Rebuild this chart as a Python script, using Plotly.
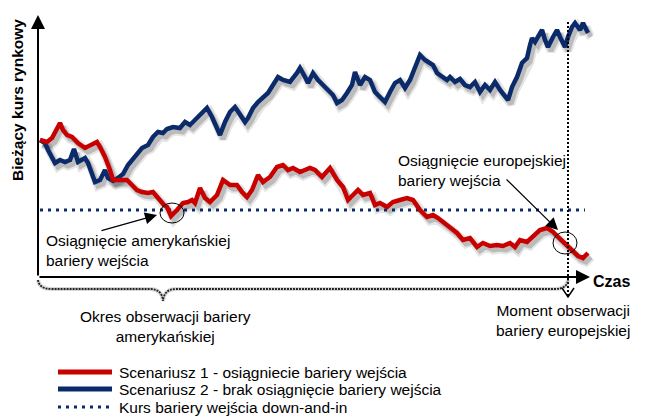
import plotly.graph_objects as go

# ---------------- data ----------------
days_s1 = [2, 9, 14, 19, 22, 25, 29, 34, 40, 47, 54, 59, 62, 67, 72, 75, 82, 89, 94, 99,
           104, 110, 115, 120, 126, 129, 133, 139, 145, 150, 154, 157, 162, 167, 172, 179,
           185, 192, 199, 204, 209, 214, 220, 225, 232, 239, 245, 250, 255, 262, 267, 272,
           277, 284, 292, 299, 305, 310, 315, 320, 325, 332, 337, 342, 349, 355, 362, 369,
           375, 382, 389, 395, 400, 405, 412, 419, 425, 432, 439, 445, 452, 459, 465, 472,
           477, 482, 489, 495, 502, 509, 515, 520, 525, 530, 535, 540, 545, 550]
price_s1 = [137, 135, 139, 150, 154, 147, 142, 140, 134, 129, 132, 135, 130, 120, 107, 97,
            97, 97, 92, 87, 85, 84, 85, 79, 72, 70, 61, 67, 74, 75, 77, 74, 89, 79, 75, 82,
            97, 92, 92, 85, 80, 87, 102, 95, 100, 110, 112, 107, 109, 105, 107, 109, 107,
            100, 109, 97, 90, 77, 82, 87, 82, 84, 72, 74, 70, 75, 77, 79, 77, 67, 60, 62,
            59, 55, 50, 44, 37, 39, 30, 34, 31, 32, 31, 34, 30, 37, 35, 41, 47, 49, 45, 40,
            35, 30, 25, 21, 19, 24]

days_s2 = [2, 7, 10, 14, 17, 22, 27, 32, 36, 40, 47, 50, 54, 57, 62, 67, 70, 75, 80, 85,
           90, 94, 99, 104, 110, 115, 120, 125, 129, 135, 142, 147, 152, 159, 165, 169, 174,
           179, 182, 187, 192, 197, 202, 207, 210, 215, 220, 225, 230, 235, 240, 245, 252,
           259, 262, 267, 270, 275, 280, 285, 290, 295, 299, 304, 309, 314, 317, 322, 327,
           332, 337, 342, 347, 352, 357, 362, 367, 372, 377, 382, 387, 392, 395, 399, 404,
           409, 412, 417, 422, 427, 432, 437, 442, 447, 452, 457, 462, 467, 470, 474, 479,
           484, 489, 492, 494, 497, 500, 504, 507, 510, 515, 519, 522, 527, 530, 534, 537,
           542, 545, 549, 550]
price_s2 = [137, 134, 127, 120, 114, 117, 115, 117, 128, 115, 119, 114, 104, 95, 97, 107,
            99, 96, 99, 103, 112, 117, 124, 129, 132, 140, 145, 144, 148, 150, 149, 155, 152,
            159, 165, 169, 160, 150, 142, 155, 165, 170, 162, 155, 159, 169, 175, 179, 184,
            192, 200, 197, 195, 204, 209, 200, 194, 204, 197, 192, 187, 182, 174, 177, 184,
            192, 205, 192, 200, 197, 185, 180, 175, 185, 194, 197, 189, 197, 210, 222, 217,
            214, 212, 204, 201, 197, 200, 195, 198, 192, 190, 195, 185, 192, 187, 195, 187,
            180, 177, 190, 200, 214, 219, 232, 239, 235, 240, 247, 237, 230, 240, 247, 240,
            230, 240, 250, 254, 247, 254, 245, 244]

barrier_level = 67
barrier_days = [2, 547]
observation_day = 530

series_names = ["Scenariusz 1 - osiągniecie bariery wejścia",
                "Scenariusz 2 - brak osiągnięcie bariery wejścia",
                "Kurs bariery wejścia down-and-in"]
y_title = "Bieżący kurs rynkowy"
x_title = "Czas"

RED = "#C80000"
BLUE = "#0B2A6A"
FONT = "Liberation Sans Narrow, Arial Narrow, Liberation Sans, Arial, sans-serif"

fig = go.Figure()

# shadows (offset copies of the data)
for d, p in [(days_s2, price_s2), (days_s1, price_s1)]:
    fig.add_trace(go.Scatter(x=[v + 3 for v in d], y=[v - 4 for v in p], mode="lines",
                             line=dict(color="rgba(0,0,0,0.10)", width=9),
                             hoverinfo="skip", showlegend=False))
    fig.add_trace(go.Scatter(x=[v + 3 for v in d], y=[v - 4 for v in p], mode="lines",
                             line=dict(color="rgba(0,0,0,0.18)", width=5),
                             hoverinfo="skip", showlegend=False))

# barrier
fig.add_trace(go.Scatter(x=barrier_days, y=[barrier_level] * 2, mode="lines",
                         name=series_names[2],
                         line=dict(color=BLUE, width=3, dash="3px,5px"), showlegend=False))
fig.add_trace(go.Scatter(x=days_s2, y=price_s2, mode="lines", name=series_names[1],
                         line=dict(color=BLUE, width=4.5), showlegend=False))
fig.add_trace(go.Scatter(x=days_s1, y=price_s1, mode="lines", name=series_names[0],
                         line=dict(color=RED, width=4.5), showlegend=False))

shapes = []
# observation moment vertical dotted line
shapes.append(dict(type="line", xref="x", yref="y", x0=observation_day, x1=observation_day,
                   y0=255, y1=-19, line=dict(color="black", width=2, dash="2px,2px")))
shapes.append(dict(type="path", xref="x", yref="y",
                   path=f"M {observation_day-6},-11 L {observation_day},-20 L {observation_day+6},-11",
                   line=dict(color="black", width=1.5)))
# brace (dotted)
brace = ("M 0,-3 Q 1,-12 14,-12 L 112,-12 Q 124,-12 125,-24 Q 126,-12 138,-12 "
         "L 517,-12 Q 529,-12 530,-3")
shapes.append(dict(type="path", xref="x", yref="y", path=brace,
                   line=dict(color="rgba(0,0,0,0.15)", width=4)))
shapes.append(dict(type="path", xref="x", yref="y", path=brace,
                   line=dict(color="#222", width=1.8, dash="2px,1px")))
# circles
shapes.append(dict(type="circle", xref="x", yref="y", x0=122, x1=146, y0=54, y1=74,
                   line=dict(color="black", width=1)))
shapes.append(dict(type="circle", xref="x", yref="y", x0=515, x1=539, y0=23, y1=45,
                   line=dict(color="black", width=1)))

# legend samples
def px2paper(px, py):
    return px / 650, 1 - py / 419

for col, dash, py in [(RED, None, 372), (BLUE, None, 389), (BLUE, "3px,5px", 407)]:
    x0, y0 = px2paper(58, py)
    x1, _ = px2paper(112, py)
    shapes.append(dict(type="line", xref="paper", yref="paper", x0=x0, x1=x1, y0=y0, y1=y0,
                       line=dict(color=col, width=5 if dash is None else 3, dash=dash)))

ann = []
# axes as arrows
ann.append(dict(x=0, y=262, ax=0, ay=0, xref="x", yref="y", axref="x", ayref="y", text="",
                showarrow=True, arrowhead=2, arrowsize=1.4, arrowwidth=2, arrowcolor="black"))
ann.append(dict(x=552, y=0, ax=0, ay=0, xref="x", yref="y", axref="x", ayref="y", text="",
                showarrow=True, arrowhead=2, arrowsize=1.4, arrowwidth=2, arrowcolor="black"))
ann.append(dict(x=553, y=-4, xref="x", yref="y", text=f"<b>{x_title}</b>", showarrow=False,
                xanchor="left", yanchor="middle", font=dict(family=FONT, size=16, color="black")))
ann.append(dict(x=-21, y=177, xref="x", yref="y", text=f"<b>{y_title}</b>", showarrow=False,
                textangle=-90, xanchor="center", yanchor="middle",
                font=dict(family=FONT, size=15.5, color="black")))
# pointing arrows
ann.append(dict(x=119, y=62, ax=62, ay=46, xref="x", yref="y", axref="x", ayref="y", text="",
                showarrow=True, arrowhead=2, arrowsize=2, arrowwidth=1.2, arrowcolor="black"))
ann.append(dict(x=520, y=47, ax=467, ay=99, xref="x", yref="y", axref="x", ayref="y", text="",
                showarrow=True, arrowhead=2, arrowsize=2, arrowwidth=1.2, arrowcolor="black"))
# text labels
TXT = dict(family=FONT, size=15.5, color="black")
ann.append(dict(x=6, y=27, xref="x", yref="y", text="Osiągnięcie amerykańskiej<br>bariery wejścia",
                showarrow=False, xanchor="left", yanchor="middle", align="left", font=TXT))
ann.append(dict(x=358, y=107, xref="x", yref="y", text="Osiągnięcie europejskiej<br>bariery wejścia",
                showarrow=False, xanchor="left", yanchor="middle", align="left", font=TXT))
ann.append(dict(x=127, y=-49, xref="x", yref="y", text="Okres obserwacji bariery<br>amerykańskiej",
                showarrow=False, xanchor="center", yanchor="middle", align="center", font=TXT))
ann.append(dict(x=525, y=-43, xref="x", yref="y", text="Moment obserwacji<br>bariery europejskiej",
                showarrow=False, xanchor="center", yanchor="middle", align="center", font=TXT))
for name, py in zip(series_names, [372, 389, 407]):
    x0, y0 = px2paper(117, py)
    ann.append(dict(x=x0, y=y0, xref="paper", yref="paper", text=name, showarrow=False,
                    xanchor="left", yanchor="middle",
                    font=dict(family=FONT, size=15.5, color="black")))

fig.update_layout(
    width=650, height=419,
    margin=dict(l=0, r=0, t=0, b=0, pad=0),
    paper_bgcolor="white", plot_bgcolor="white",
    xaxis=dict(range=[-38, 612], visible=False, fixedrange=True),
    yaxis=dict(range=[-142, 277], visible=False, fixedrange=True),
    shapes=shapes, annotations=ann, showlegend=False,
)

fig.write_html("out.html", config={"displayModeBar": False},
               post_script="document.body.style.margin='0';document.body.style.overflow='hidden';")
